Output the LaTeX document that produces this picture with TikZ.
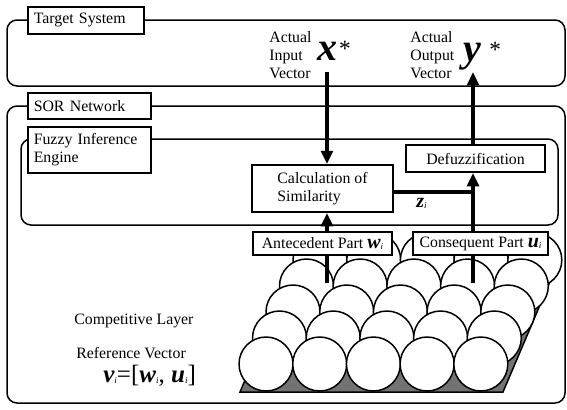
\documentclass[tikz,border=0pt]{standalone}
\usepackage{fontspec}
\setmainfont{Liberation Serif}
\usetikzlibrary{arrows.meta, positioning}

\newcommand{\lbfont}{\fontsize{9.5}{10.8}\selectfont}
% bold italic vector with a small italic index
\newcommand{\bvec}[3]{{\fontsize{#3}{#3}\selectfont\bfseries\itshape #1}\raisebox{-1pt}{\fontsize{5.5}{6}\selectfont\itshape #2}}

\tikzset{
  every node/.append style={font=\lbfont},
  layerbox/.style={draw, line width=0.9pt, rounded corners=6pt},
  layertab/.style={draw, line width=1.1pt, fill=white, anchor=north west,
                   align=left, inner xsep=3.5pt, inner ysep=1pt},
  procbox/.style={draw, line width=1.1pt, fill=white, align=left, inner sep=1pt},
  flow/.style={line width=2pt, -{Triangle[width=7pt,length=8pt]}},
  stem/.style={line width=2pt},
  cell/.style={draw, line width=0.9pt, fill=white},
}

\begin{document}
\begin{tikzpicture}[x=0.6pt,y=-0.6pt]
\useasboundingbox (0,0) rectangle (567,409);

% ── Layers ────────────────────────────────────────────────────────────────────
\draw[layerbox] (7,20) rectangle (565,86);
\draw[layerbox] (7,106) rectangle (565,403);
\draw[layerbox] (21,139) rectangle (558,225);

\node[layertab, text width=62.6pt, minimum height=16.2pt] (tstab) at (27,6) {Target System};
\node[layertab, text width=66.8pt, minimum height=15.6pt] (sortab) at (27,92) {SOR Network};
\node[layertab, text width=66.8pt, minimum height=27.6pt] (fietab) at (27,126)
      {Fuzzy Inference\\Engine};

% ── Competitive layer (5 x 5 units on a plate) ────────────────────────────────
\draw[line width=0.9pt, fill=black!55] (240,392) -- (503,392) -- (560,258) -- (297,258) -- cycle;
\foreach \r in {4,3,2,1,0} {
  \foreach \c in {0,...,4} {
    \draw[cell] ({266+13.5*\r+53.7*\c},{364-26*\r}) circle[radius=16.2pt];
  }
}

\node[anchor=west, inner sep=0pt] (complbl) at (74,321) {Competitive Layer};
\node[anchor=west, inner sep=0pt] (reflbl) at (76,353) {Reference Vector};
\node[anchor=base west, inner sep=0pt] (refvec) at (103,382)
      {\bvec{v}{i}{15}{\fontsize{15}{15}\selectfont =[}\bvec{w}{i}{15}{\fontsize{15}{15}\selectfont , }\bvec{u}{i}{15}{\fontsize{15}{15}\selectfont ]}};

% ── Weight parts ──────────────────────────────────────────────────────────────
\node[procbox, minimum width=83.4pt, minimum height=13.8pt] (ante) at (322.5,243.5)
      {Antecedent Part \bvec{w}{i}{12}};
\node[procbox, minimum width=81pt, minimum height=13.8pt] (cons) at (480.5,243.5)
      {Consequent Part \bvec{u}{i}{12}};

% ── Inference blocks ──────────────────────────────────────────────────────────
\node[procbox, minimum width=84.6pt, minimum height=28.2pt] (calc) at (322.5,188.5)
      {Calculation of\\Similarity};
\node[procbox, minimum width=83.4pt, minimum height=16.2pt] (defuzz) at (475.5,158.5)
      {Defuzzification};

% ── Signal paths ──────────────────────────────────────────────────────────────
\coordinate (xin) at (327,72);
\coordinate (yout) at (473,72);
\coordinate (zi) at (473,192);
\coordinate (antefoot) at (327,283);
\coordinate (consfoot) at (473,283);

\draw[flow] (xin) -- (xin |- calc.north);
\draw[flow] (yout |- defuzz.north) -- (yout);
\draw[flow] (xin |- ante.north) -- (xin |- calc.south);
\draw[flow] (yout |- cons.north) -- (yout |- defuzz.south);
\draw[stem] (calc.east |- zi) -- (zi);
\draw[stem] (antefoot) -- (antefoot |- ante.south);
\draw[stem] (consfoot) -- (consfoot |- cons.south);

\node[anchor=base west, inner sep=0pt] (zlbl) at (416,207) {\bvec{z}{i}{12}};

% ── Actual input / output ─────────────────────────────────────────────────────
\node[anchor=west, align=left, inner sep=0pt] (inlbl) at (269,55) {Actual\\Input\\Vector};
\node[anchor=west, align=left, inner sep=0pt] (outlbl) at (410,55) {Actual\\Output\\Vector};
\node[anchor=base west, inner sep=0pt] (xvec) at (317,60)
      {{\fontsize{24}{24}\selectfont\bfseries\itshape x}\kern1pt\raisebox{2pt}{\fontsize{14}{14}\selectfont *}};
\node[anchor=base west, inner sep=0pt] (yvec) at (463,61)
      {{\fontsize{24}{24}\selectfont\bfseries\itshape y}\hspace{5pt}\raisebox{2pt}{\fontsize{14}{14}\selectfont *}};

\end{tikzpicture}
\end{document}
